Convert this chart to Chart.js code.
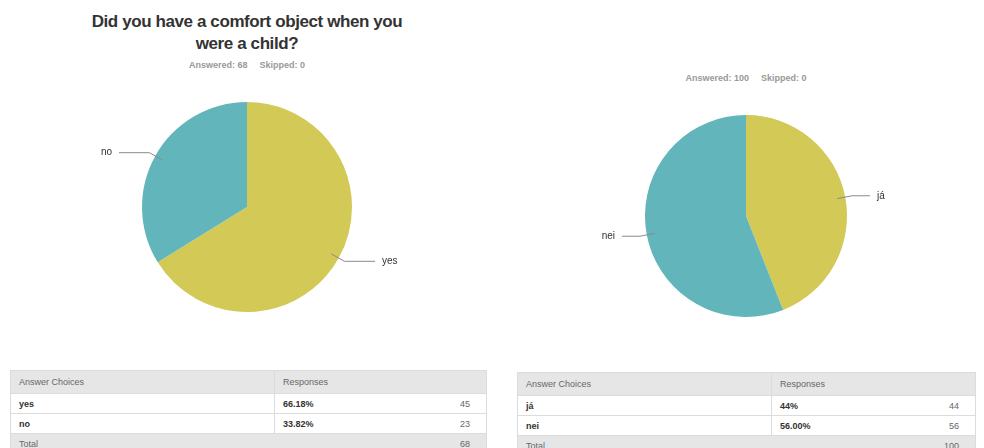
<!DOCTYPE html>
<html>
<head>
<meta charset="utf-8">
<script src="https://cdn.jsdelivr.net/npm/chart.js@4.4.1/dist/chart.umd.min.js"></script>
<style>
    body { margin: 0; width: 984px; height: 448px; overflow: hidden; background: #fff; font-family: "Liberation Sans", Arial, sans-serif; position: relative; }
    .titulo { position: absolute; left: 0; top: 11px; width: 494px; text-align: center; font-weight: bold; font-size: 17px; letter-spacing: -0.4px; line-height: 22px; color: #333; }
    .respondidas { position: absolute; text-align: center; font-weight: bold; font-size: 9px; color: #999; }
    .respondidas span + span { margin-left: 12px; }
    canvas { position: absolute; }
    table { position: absolute; border-collapse: collapse; font-size: 9px; color: #333; }
    table td { border: 1px solid #dcdcdc; padding: 0 8px; }
    table tr.cab td, table tr.total td { background: #e6e6e6; color: #666; font-weight: normal; }
    table tr.cab td { height: 22px; }
    table tr.linha td { height: 19px; font-weight: bold; }
    table tr.total td { height: 19px; }
    table td.num { text-align: right; color: #666; font-weight: normal !important; padding-right: 16px; }
    table td.esq { border-right: 1px solid #dcdcdc; }
</style>
</head>
<body>

<div class="titulo">Did you have a comfort object when you<br>were a child?</div>
<div class="respondidas" style="left:0; top:60px; width:494px;"><span>Answered: 68</span><span>Skipped: 0</span></div>
<div class="respondidas" style="left:500px; top:73px; width:492px;"><span>Answered: 100</span><span>Skipped: 0</span></div>

<canvas id="GraficoConforto" width="494" height="254" style="left:0; top:80px;"></canvas>
<canvas id="GraficoJaNei" width="472" height="252" style="left:510px; top:90px;"></canvas>

<table id="TabelaConforto" style="left:10px; top:370px; width:477px;"></table>
<table id="TabelaJaNei" style="left:517px; top:372px; width:459px;"></table>

<script>
    var respostasConforto = ['yes', 'no'];
    var totaisConforto = [45, 23];
    var percentuaisConforto = ['66.18%', '33.82%'];
    var respondidasConforto = 68;

    var respostasJaNei = ['já', 'nei'];
    var totaisJaNei = [44, 56];
    var percentuaisJaNei = ['44%', '56.00%'];
    var respondidasJaNei = 100;

    var corAmarela = '#d3c957';
    var corAzul = '#62b6bb';

    // linha de chamada saindo do meio de cada fatia até o rótulo
    var rotulosComLinha = {
        id: 'rotulosComLinha',
        afterDatasetsDraw: function (chart) {
            var ctx = chart.ctx;
            var meta = chart.getDatasetMeta(0);
            var nomes = chart.data.labels;

            ctx.save();
            ctx.strokeStyle = '#8a8a8a';
            ctx.lineWidth = 1;
            ctx.fillStyle = '#333';
            ctx.font = '10px "Liberation Sans", Arial, sans-serif';
            ctx.textBaseline = 'middle';

            meta.data.forEach(function (arco, i) {
                var meio = (arco.startAngle + arco.endAngle) / 2;
                var r = arco.outerRadius;
                var lado = Math.cos(meio) >= 0 ? 1 : -1;

                var x0 = arco.x + Math.cos(meio) * r * 0.92;
                var y0 = arco.y + Math.sin(meio) * r * 0.92;
                var x1 = arco.x + Math.cos(meio) * (r * 0.92 + 15);
                var y1 = arco.y + Math.sin(meio) * (r * 0.92 + 15);
                var x2 = arco.x + lado * (r + 23);

                ctx.beginPath();
                ctx.moveTo(x0, y0);
                ctx.lineTo(x1, y1);
                ctx.lineTo(x2, y1);
                ctx.stroke();

                ctx.textAlign = lado > 0 ? 'left' : 'right';
                ctx.fillText(nomes[i], arco.x + lado * (r + 30), y1);
            });
            ctx.restore();
        }
    };

    function CriarPizza(id, nomes, totais, raio) {
        var ctx = document.getElementById(id).getContext('2d');

        return new Chart(ctx, {
            type: 'pie',
            data: {
                labels: nomes,
                datasets: [
                    {
                        backgroundColor: [corAmarela, corAzul],
                        borderWidth: 0,
                        data: totais
                    }
                ]
            },
            options: {
                responsive: false,
                animation: false,
                radius: raio,
                plugins: {
                    legend: { display: false },
                    tooltip: { enabled: false }
                }
            },
            plugins: [rotulosComLinha]
        });
    }

    function MontarTabela(id, nomes, percentuais, totais, respondidas, larguraPrimeira) {
        var html = '<tr class="cab"><td class="esq" style="width:' + larguraPrimeira + 'px">Answer Choices</td><td colspan="2">Responses</td></tr>';

        for (var i = 0; i < nomes.length; i++) {
            html += '<tr class="linha"><td class="esq">' + nomes[i] + '</td><td style="border-right:none">' + percentuais[i] + '</td><td class="num" style="border-left:none">' + totais[i] + '</td></tr>';
        }

        html += '<tr class="total"><td style="border-right:none">Total</td><td style="border-left:none;border-right:none"></td><td class="num" style="border-left:none">' + respondidas + '</td></tr>';
        document.getElementById(id).innerHTML = html;
    }

    CriarPizza('GraficoConforto', respostasConforto, totaisConforto, 105);
    CriarPizza('GraficoJaNei', respostasJaNei, totaisJaNei, 101);

    MontarTabela('TabelaConforto', respostasConforto, percentuaisConforto, totaisConforto, respondidasConforto, 247);
    MontarTabela('TabelaJaNei', respostasJaNei, percentuaisJaNei, totaisJaNei, respondidasJaNei, 237);
</script>
</body>
</html>
